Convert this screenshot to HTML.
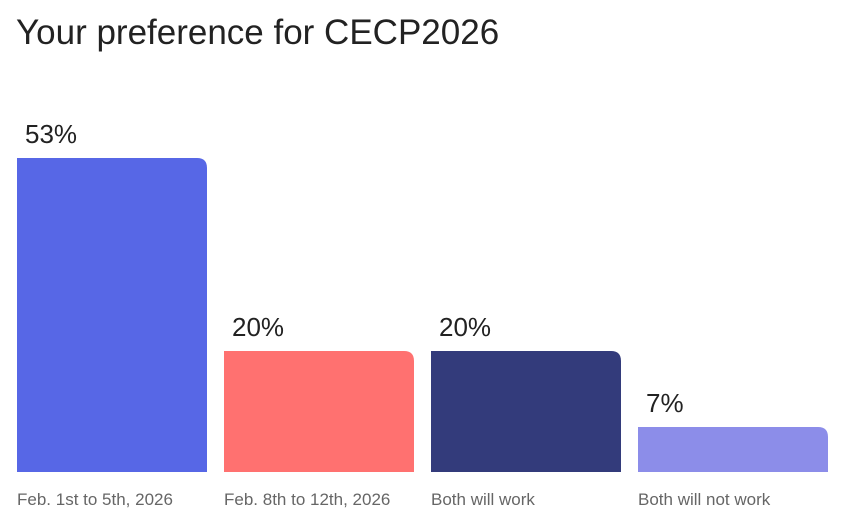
<!DOCTYPE html>
<html><head><meta charset="utf-8"><style>
body{margin:0;background:#fff;width:856px;height:527px;overflow:hidden;font-family:"Liberation Sans",sans-serif}
</style></head><body>
<svg width="856" height="527">
<text x="16" y="44" font-size="35" fill="#222" font-family="Liberation Sans, sans-serif">Your preference for CECP2026</text>
<g id="bars"></g>
</svg>
<script>
const categories=["Feb. 1st to 5th, 2026","Feb. 8th to 12th, 2026","Both will work","Both will not work"];
const values=[53,20,20,7];
const colors=["#5767e6","#ff7170","#333b7b","#8c8de9"];
const baseY=472, x0=17, barW=190, step=207;
function yScale(v){return 5.85*v+4;}
const g=document.getElementById('bars');
const ns="http://www.w3.org/2000/svg";
values.forEach((v,i)=>{
  const h=yScale(v), x=x0+i*step, y=baseY-h, r=10;
  const p=document.createElementNS(ns,'path');
  p.setAttribute('d',`M${x},${baseY}V${y}H${x+barW-r}Q${x+barW},${y} ${x+barW},${y+r}V${baseY}Z`);
  p.setAttribute('fill',colors[i]);
  
  
  g.appendChild(p);
  const t=document.createElementNS(ns,'text');
  t.setAttribute('x',x+8);t.setAttribute('y',y-15);
  t.setAttribute('font-size','26');t.setAttribute('fill','#222');
  t.textContent=v+'%';
  
  
  g.appendChild(t);
  const c=document.createElementNS(ns,'text');
  c.setAttribute('x',x);c.setAttribute('y',505);
  c.setAttribute('font-size','17');c.setAttribute('fill','#666');
  c.textContent=categories[i];
  
  
  g.appendChild(c);
});
</script>
</body></html>
